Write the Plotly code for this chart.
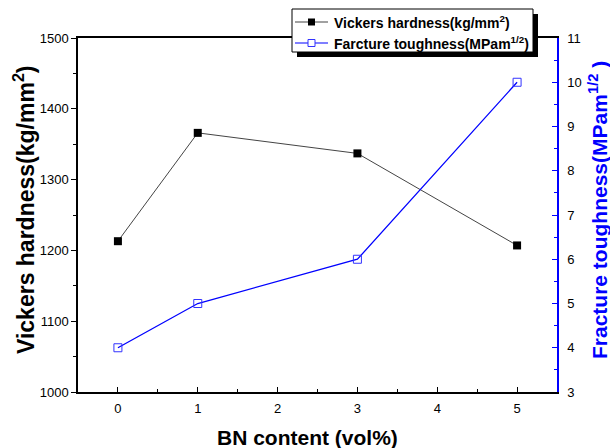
import plotly.graph_objects as go

bn = [0, 1, 3, 5]
hardness = [1213, 1366, 1337, 1207]
toughness = [4, 5, 6, 10]
names = ["Vickers hardness(kg/mm<sup>2</sup>)", "Farcture toughness(MPam<sup>1/2</sup>)"]
x_title = "BN content (vol%)"
y_title = "Vickers hardness(kg/mm<sup>2</sup>)"
y2_title = "Fracture toughness(MPam<sup>1/2</sup> )"

W, H = 610, 448
L, R, T, B = 78, 53, 38, 56
pw, ph = W - L - R, H - T - B
BLUE = "#0000ff"

def px(x):
    return (x - L) / pw

def py(y):
    return (H - B - y) / ph

fig = go.Figure()
fig.add_trace(go.Scatter(x=bn, y=hardness, mode="lines+markers", name=names[0],
                         line=dict(color="#444444", width=1),
                         marker=dict(symbol="square", size=8, color="black")))
fig.add_trace(go.Scatter(x=bn, y=toughness, mode="lines+markers", yaxis="y2", name=names[1],
                         line=dict(color=BLUE, width=1.3),
                         marker=dict(symbol="square-open", size=8, color="#3333ff",
                                     line=dict(width=1))))

font = "Liberation Sans, Arial, sans-serif"
fig.update_layout(
    width=W, height=H,
    margin=dict(l=L, r=R, t=T, b=B, autoexpand=False),
    paper_bgcolor="white", plot_bgcolor="white",
    font=dict(family=font, size=13, color="black"),
    showlegend=False,
    xaxis=dict(range=[-0.5, 5.5], tickmode="linear", dtick=1, tick0=0,
               ticks="inside", ticklen=5, tickcolor="black", ticklabelstandoff=4,
               showline=True, linecolor="black", linewidth=1.5, mirror=True,
               showgrid=False, zeroline=False,
               minor=dict(dtick=0.5, ticks="inside", ticklen=3, tickcolor="black"),
               automargin=False),
    yaxis=dict(range=[1000, 1500], tickmode="linear", dtick=100,
               ticks="outside", ticklen=5, tickcolor="black",
               showline=True, linecolor="black", linewidth=1.5,
               showgrid=False, zeroline=False,
               minor=dict(dtick=50, ticks="outside", ticklen=3, tickcolor="black"),
               automargin=False),
    yaxis2=dict(range=[3, 11], overlaying="y", side="right", tickmode="linear", dtick=1,
                ticks="inside", ticklen=5, tickcolor=BLUE, ticklabelstandoff=6,
                showline=True, linecolor=BLUE, linewidth=1.5,
                showgrid=False, zeroline=False,
                tickfont=dict(color="black"),
                minor=dict(dtick=0.5, ticks="inside", ticklen=3, tickcolor=BLUE),
                automargin=False),
)

# axis titles as annotations for exact placement
fig.add_annotation(xref="paper", yref="paper", x=px(307), y=py(437),
                   xanchor="center", yanchor="middle", showarrow=False,
                   text="<b>" + x_title + "</b>", font=dict(size=21, color="black"))
fig.add_annotation(xref="paper", yref="paper", x=px(24), y=py(210),
                   xanchor="center", yanchor="middle", showarrow=False, textangle=-90,
                   text="<b>" + y_title + "</b>", font=dict(size=23, color="black"))
fig.add_annotation(xref="paper", yref="paper", x=px(598), y=py(210),
                   xanchor="center", yanchor="middle", showarrow=False, textangle=-90,
                   text="<b>" + y2_title + "</b>", font=dict(size=21, color=BLUE))

# manual legend: shadow, box, symbols, texts
fig.add_shape(type="rect", xref="paper", yref="paper",
              x0=px(297), x1=px(538), y0=py(57), y1=py(14),
              fillcolor="black", line=dict(width=0), layer="above")
fig.add_shape(type="rect", xref="paper", yref="paper",
              x0=px(292), x1=px(533), y0=py(52), y1=py(9),
              fillcolor="white", line=dict(color="black", width=1), layer="above")
rows = [(22, "#444444", "black", "square"), (43, BLUE, "#3333ff", "square-open")]
for (yy, lc, mc, sym), nm in zip(rows, names):
    fig.add_shape(type="line", xref="paper", yref="paper",
                  x0=px(295), x1=px(328), y0=py(yy), y1=py(yy),
                  line=dict(color=lc, width=1.2), layer="above")
    if sym == "square":
        fig.add_shape(type="rect", xref="paper", yref="paper",
                      x0=px(308), x1=px(315), y0=py(yy + 3.5), y1=py(yy - 3.5),
                      fillcolor="black", line=dict(width=0), layer="above")
    else:
        fig.add_shape(type="rect", xref="paper", yref="paper",
                      x0=px(308), x1=px(315), y0=py(yy + 3.5), y1=py(yy - 3.5),
                      fillcolor="white", line=dict(color=mc, width=1), layer="above")
    fig.add_annotation(xref="paper", yref="paper", x=px(332), y=py(yy),
                       xanchor="left", yanchor="middle", showarrow=False,
                       text="<b>" + nm + "</b>", font=dict(size=14, color="black"))

fig.write_html("out.html")
